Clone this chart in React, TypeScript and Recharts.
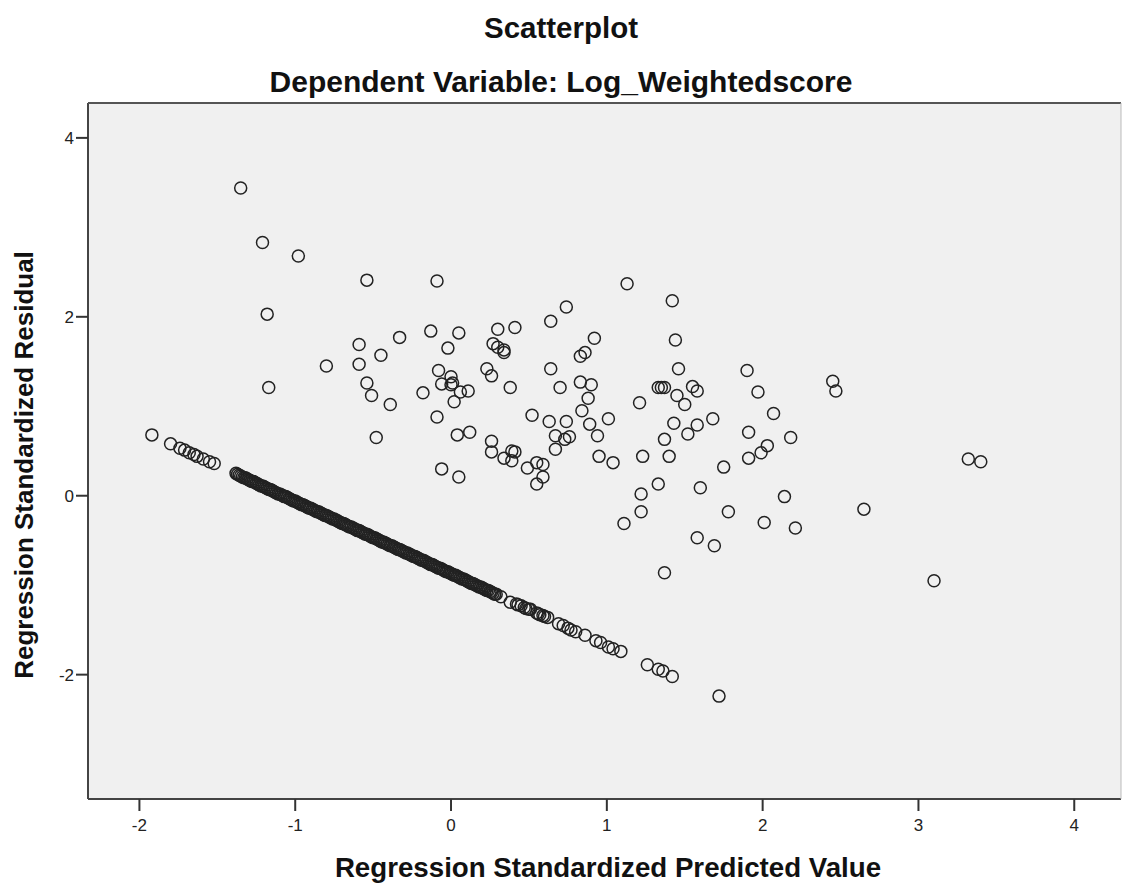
import React from 'react';
import { ScatterChart, Scatter, XAxis, YAxis, CartesianGrid } from 'recharts';

// scattered cloud above the band (predicted, residual)
const cloudPredicted = [
  -1.35, -1.21, -0.98, -0.54, -0.09, -1.18, -1.17, -0.59, -0.33, -0.13,
  0.05, -0.02, -0.45, -0.59, -0.8, 0.3, 0.27, 0.3, 0.34, 0.34,
  0.41, 0.64, 0.74, 0.92, 0.83, 0.86, 1.13, 1.42, 1.44, 1.46,
  -0.08, 0.0, -0.06, 0.0, 0.01, 0.06, 0.11, 0.02, -0.18, -0.09,
  -0.54, -0.51, -0.39, 0.23, 0.26, 0.38, 0.64, 0.7, 0.83, 0.9,
  0.88, 0.84, 0.52, 0.63, 0.74, 0.89, 1.01, 0.94, 0.67, 0.76,
  0.73, 0.67, 0.04, 0.12, 0.26, 0.26, 0.34, 0.39, 0.41, 0.39,
  0.49, 0.55, 0.59, 0.59, 0.55, 0.95, 1.04, 1.23, 1.4, 1.37,
  1.43, 1.52, 1.58, 1.68, 1.21, 1.33, 1.35, 1.37, 1.45, 1.5,
  1.55, 1.58, -0.06, 0.05, 1.22, 1.33, 1.22, 1.11, 1.6, 1.78,
  1.58, 1.69, 1.37, 1.75, 1.9, 1.97, 2.07, 2.18, 1.91, 1.91,
  1.99, 2.03, 2.14, 2.01, 2.21, 2.65, 2.45, 2.47, 3.32, 3.4,
  3.1, 1.72, -0.48,
];
const cloudResidual = [
  3.44, 2.83, 2.68, 2.41, 2.4, 2.03, 1.21, 1.69, 1.77, 1.84,
  1.82, 1.65, 1.57, 1.47, 1.45, 1.86, 1.7, 1.66, 1.63, 1.6,
  1.88, 1.95, 2.11, 1.76, 1.56, 1.6, 2.37, 2.18, 1.74, 1.42,
  1.4, 1.33, 1.25, 1.24, 1.26, 1.16, 1.17, 1.05, 1.15, 0.88,
  1.26, 1.12, 1.02, 1.42, 1.34, 1.21, 1.42, 1.21, 1.27, 1.24,
  1.09, 0.95, 0.9, 0.83, 0.83, 0.8, 0.86, 0.67, 0.67, 0.66,
  0.63, 0.52, 0.68, 0.71, 0.61, 0.49, 0.42, 0.5, 0.49, 0.39,
  0.31, 0.37, 0.35, 0.21, 0.13, 0.44, 0.37, 0.44, 0.44, 0.63,
  0.81, 0.69, 0.79, 0.86, 1.04, 1.21, 1.21, 1.21, 1.12, 1.02,
  1.22, 1.17, 0.3, 0.21, 0.02, 0.13, -0.18, -0.31, 0.09, -0.18,
  -0.47, -0.56, -0.86, 0.32, 1.4, 1.16, 0.92, 0.65, 0.71, 0.42,
  0.48, 0.56, -0.01, -0.3, -0.36, -0.15, 1.28, 1.17, 0.41, 0.38,
  -0.95, -2.24, 0.65,
];

// the diagonal band of cases at the floor of the scale
const bandPredicted = [
  -1.92, -1.8, -1.74, -1.71, -1.68, -1.65, -1.63, -1.59, -1.55, -1.52,
  -1.38, -1.37, -1.35, -1.33, -1.31, -1.29, -1.27, -1.25, -1.23, -1.21,
  -1.19, -1.17, -1.15, -1.13, -1.11, -1.09, -1.07, -1.05, -1.03, -1.01,
  -0.99, -0.97, -0.95, -0.93, -0.91, -0.89, -0.87, -0.85, -0.83, -0.81,
  -0.79, -0.77, -0.75, -0.73, -0.71, -0.69, -0.67, -0.65, -0.63, -0.61,
  -0.59, -0.57, -0.55, -0.53, -0.51, -0.49, -0.47, -0.45, -0.43, -0.41,
  -0.39, -0.37, -0.35, -0.33, -0.31, -0.29, -0.27, -0.25, -0.23, -0.21,
  -0.19, -0.17, -0.15, -0.13, -0.11, -0.09, -0.07, -0.05, -0.03, -0.01,
  0.01, 0.03, 0.05, 0.07, 0.09, 0.11, 0.13, 0.15, 0.17, 0.19,
  0.21, 0.23, 0.25, 0.27, 0.29, 0.32, 0.38, 0.42, 0.45, 0.47,
  0.51, 0.55, 0.57, 0.59, 0.62, 0.69, 0.72, 0.75, 0.77, 0.8,
  0.86, 0.93, 0.96, 1.01, 1.04, 1.09, 1.26, 1.33, 1.36, 1.42,
];
const bandResidual = [
  0.68, 0.58, 0.53, 0.51, 0.48, 0.46, 0.44, 0.41, 0.38, 0.36,
  0.25, 0.24, 0.22, 0.2, 0.19, 0.17, 0.16, 0.14, 0.12, 0.11,
  0.09, 0.07, 0.06, 0.04, 0.02, 0.01, -0.01, -0.02, -0.04, -0.06,
  -0.07, -0.09, -0.1, -0.12, -0.14, -0.15, -0.17, -0.18, -0.2, -0.22,
  -0.23, -0.25, -0.26, -0.28, -0.3, -0.31, -0.33, -0.35, -0.36, -0.38,
  -0.39, -0.41, -0.43, -0.44, -0.46, -0.47, -0.49, -0.51, -0.52, -0.54,
  -0.56, -0.57, -0.59, -0.6, -0.62, -0.64, -0.65, -0.67, -0.68, -0.7,
  -0.72, -0.73, -0.75, -0.77, -0.78, -0.8, -0.81, -0.83, -0.85, -0.86,
  -0.88, -0.89, -0.91, -0.93, -0.94, -0.96, -0.98, -0.99, -1.01, -1.02,
  -1.04, -1.06, -1.07, -1.09, -1.1, -1.13, -1.19, -1.21, -1.23, -1.25,
  -1.27, -1.31, -1.33, -1.34, -1.36, -1.43, -1.45, -1.48, -1.5, -1.52,
  -1.56, -1.62, -1.64, -1.69, -1.71, -1.74, -1.89, -1.94, -1.96, -2.02,
];

// more cases packed into the dark part of the band
const bandDensePredicted = [
  -1.36, -1.34, -1.32, -1.3, -1.28, -1.26, -1.24, -1.22, -1.2, -1.18,
  -1.16, -1.14, -1.12, -1.1, -1.08, -1.06, -1.04, -1.02, -1.0, -0.98,
  -0.96, -0.94, -0.92, -0.9, -0.88, -0.86, -0.84, -0.82, -0.8, -0.78,
  -0.76, -0.74, -0.72, -0.7, -0.68, -0.66, -0.64, -0.62, -0.6, -0.58,
  -0.56, -0.54, -0.52, -0.5, -0.48, -0.46, -0.44, -0.42, -0.4, -0.38,
  -0.36, -0.34, -0.32, -0.3, -0.28, -0.26, -0.24, -0.22, -0.2, -0.18,
  -0.16, -0.14, -0.12, -0.1, -0.08, -0.06, -0.04, -0.02, 0.0, 0.02,
  0.04, 0.06, 0.08, 0.1, 0.12, 0.14, 0.16, 0.18, 0.2, 0.22,
  0.24, 0.26, 0.28, 0.43, 0.48, 0.5, 0.56, 0.6,
];
const bandDenseResidual = [
  0.23, 0.21, 0.2, 0.18, 0.16, 0.15, 0.13, 0.11, 0.1, 0.08,
  0.07, 0.05, 0.03, 0.02, 0.0, -0.01, -0.03, -0.05, -0.06, -0.08,
  -0.1, -0.11, -0.13, -0.14, -0.16, -0.18, -0.19, -0.21, -0.22, -0.24,
  -0.26, -0.27, -0.29, -0.31, -0.32, -0.34, -0.35, -0.37, -0.39, -0.4,
  -0.42, -0.43, -0.45, -0.47, -0.48, -0.5, -0.52, -0.53, -0.55, -0.56,
  -0.58, -0.6, -0.61, -0.63, -0.64, -0.66, -0.68, -0.69, -0.71, -0.72,
  -0.74, -0.76, -0.77, -0.79, -0.81, -0.82, -0.84, -0.85, -0.87, -0.89,
  -0.9, -0.92, -0.93, -0.95, -0.97, -0.98, -1.0, -1.02, -1.03, -1.05,
  -1.06, -1.08, -1.1, -1.22, -1.26, -1.27, -1.32, -1.35,
];

const xTicks = [-2, -1, 0, 1, 2, 3, 4];
const yTicks = [-2, 0, 2, 4];

const font = '"Liberation Sans", Arial, sans-serif';

const points = [
  ...cloudPredicted.map((x, i) => ({ x, y: cloudResidual[i] })),
  ...bandPredicted.map((x, i) => ({ x, y: bandResidual[i] })),
  ...bandDensePredicted.map((x, i) => ({ x, y: bandDenseResidual[i] })),
];

const Ring = (props: any) => (
  <circle cx={props.cx} cy={props.cy} r={6} fill="none" stroke="#222" strokeWidth={1.5} />
);

const tickStyle = { fill: '#222', fontSize: 17, fontFamily: font };

export default function App() {
  return (
    <div style={{ position: 'absolute', left: 0, top: 0, width: 1123, height: 884, background: '#fff' }}>
      <ScatterChart width={1123} height={884} margin={{ top: 103, right: 2, bottom: 45, left: 28 }}>
        <CartesianGrid horizontal={false} vertical={false} fill="#f0f0f0" />
        <XAxis
          type="number"
          dataKey="x"
          domain={[-2.33, 4.3]}
          ticks={xTicks}
          allowDataOverflow
          height={40}
          tickSize={12}
          tickMargin={8}
          axisLine={{ stroke: '#444', strokeWidth: 2 }}
          tickLine={{ stroke: '#333', strokeWidth: 2 }}
          tick={tickStyle}
        />
        <YAxis
          type="number"
          dataKey="y"
          domain={[-3.39, 4.39]}
          ticks={yTicks}
          allowDataOverflow
          width={60}
          tickSize={12}
          tickMargin={2}
          axisLine={{ stroke: '#444', strokeWidth: 2 }}
          tickLine={{ stroke: '#333', strokeWidth: 2 }}
          tick={tickStyle}
        />
        <Scatter data={points} shape={Ring} isAnimationActive={false} />
      </ScatterChart>
      <svg width={1123} height={884} style={{ position: 'absolute', left: 0, top: 0, pointerEvents: 'none' }}>
        <line x1={88} y1={103} x2={1121} y2={103} stroke="#555" strokeWidth={2} />
        <line x1={1121} y1={103} x2={1121} y2={799} stroke="#bbb" strokeWidth={1} />
        <text x={561} y={38} textAnchor="middle" fontFamily={font} fontWeight="bold" fontSize={29.5} fill="#111">
          Scatterplot
        </text>
        <text x={561} y={92} textAnchor="middle" fontFamily={font} fontWeight="bold" fontSize={30} fill="#111">
          Dependent Variable: Log_Weightedscore
        </text>
        <text x={608} y={877} textAnchor="middle" fontFamily={font} fontWeight="bold" fontSize={27.7} fill="#111">
          Regression Standardized Predicted Value
        </text>
        <text
          x={0}
          y={0}
          transform="translate(33,465) rotate(-90)"
          textAnchor="middle"
          fontFamily={font}
          fontWeight="bold"
          fontSize={26}
          fill="#111"
        >
          Regression Standardized Residual
        </text>
      </svg>
    </div>
  );
}
